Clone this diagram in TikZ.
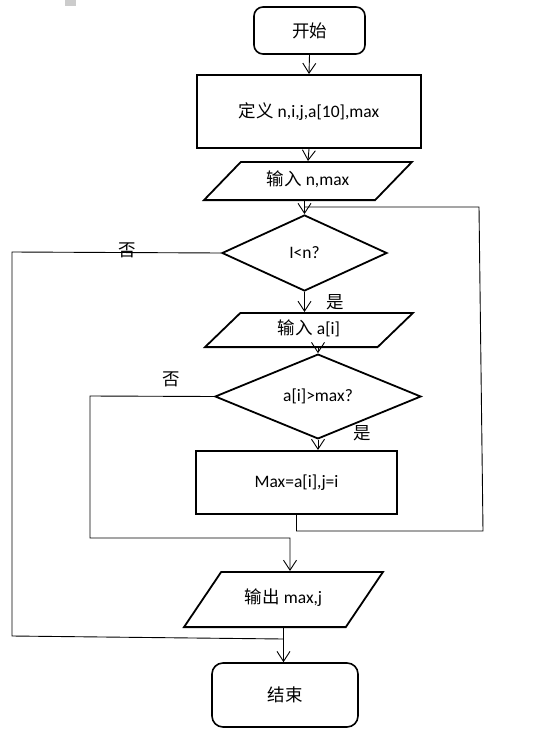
\documentclass[tikz,border=0pt]{standalone}
\usepackage{fontspec}
\setmainfont{Carlito}
\newfontfamily\cjk{Noto Sans CJK SC}
\usetikzlibrary{shapes.geometric,arrows.meta}

\begin{document}
\begin{tikzpicture}[x=1pt,y=-1pt,
    font=\fontsize{17.5}{21}\selectfont,
    term/.style={draw,line width=1.6pt,rounded corners=9pt},
    proc/.style={draw,line width=2pt},
    io/.style={draw,line width=1.8pt,trapezium,trapezium stretches body,
               inner xsep=0pt,text height=12pt,text depth=4pt},
    cond/.style={draw,line width=1.8pt,diamond,inner sep=0pt},
    line/.style={line width=0.9pt},
    arr/.style={line,-{Straight Barb[length=10pt,width=13pt]}}]
  \useasboundingbox (0,0) rectangle (534,747);
  \fill[black!20] (65,0) rectangle (76,6);

  % boxes
  \node[term,minimum width=111pt,minimum height=47pt] (start) at (309.5,30.5) {\cjk 开始};
  \node[proc,minimum width=224pt,minimum height=73pt] (define) at (309,111.5) {{\cjk 定义} n,i,j,a[10],max};
  \node[io,trapezium left angle=46,trapezium right angle=134,inner ysep=11.1pt,
        minimum width=208pt] (input) at (308,181) {{\cjk 输入} n,max};
  \node[cond,minimum width=165pt,minimum height=76pt] (cond1) at (304.5,253) {I<n?};
  \node[io,trapezium left angle=44,trapezium right angle=136,inner ysep=9.1pt,
        minimum width=208pt] (read) at (309,330) {{\cjk 输入} a[i]};
  \node[cond,minimum width=206pt,minimum height=69pt] (cond2) at (318,396.5) {a[i]>max?};
  \node[proc,minimum width=201pt,minimum height=63pt] (assign) at (296.5,482.5) {Max=a[i],j=i};
  \node[io,trapezium left angle=56,trapezium right angle=124,inner ysep=19.6pt,
        minimum width=199pt] (output) at (283.5,599.5) {{\cjk 输出} max,j};
  \node[term,rounded corners=11pt,minimum width=146pt,minimum height=64pt] (stop) at (285,695) {\cjk 结束};

  % labels
  \node (no1) at (127,250) {\cjk 否};
  \node (yes1) at (335,302) {\cjk 是};
  \node (no2) at (171,379) {\cjk 否};
  \node (yes2) at (362,433) {\cjk 是};

  % corners
  \coordinate (back) at (cond1.north |- 0,207);
  \coordinate (nojoin) at (290,538);
  \coordinate (endjoin) at (output.south |- 0,639);

  % connectors
  \draw[arr] (start.south) -- (define.north);
  \draw[arr] (define.south) -- (input.north);
  \draw[arr] (input.south -| cond1.north) -- (cond1.north);
  \draw[arr] (cond1.south) -- (cond1.south |- read.north);
  \draw[arr] (read.south -| cond2.north) -- (cond2.north);
  \draw[arr] (cond2.south) -- (cond2.south |- assign.north);
  \draw[line] (assign.south) -- (assign.south |- 0,531) -- (483,531) -- (479,207) -- (back);
  \draw[arr] (cond2.west) -- (90,396) -- (90,538) -- (nojoin) -- (nojoin |- output.north);
  \draw[line] (cond1.west) -- (12,252) -- (12,636) -- (endjoin);
  \draw[arr] (output.south) -- (output.south |- stop.north);
\end{tikzpicture}
\end{document}
